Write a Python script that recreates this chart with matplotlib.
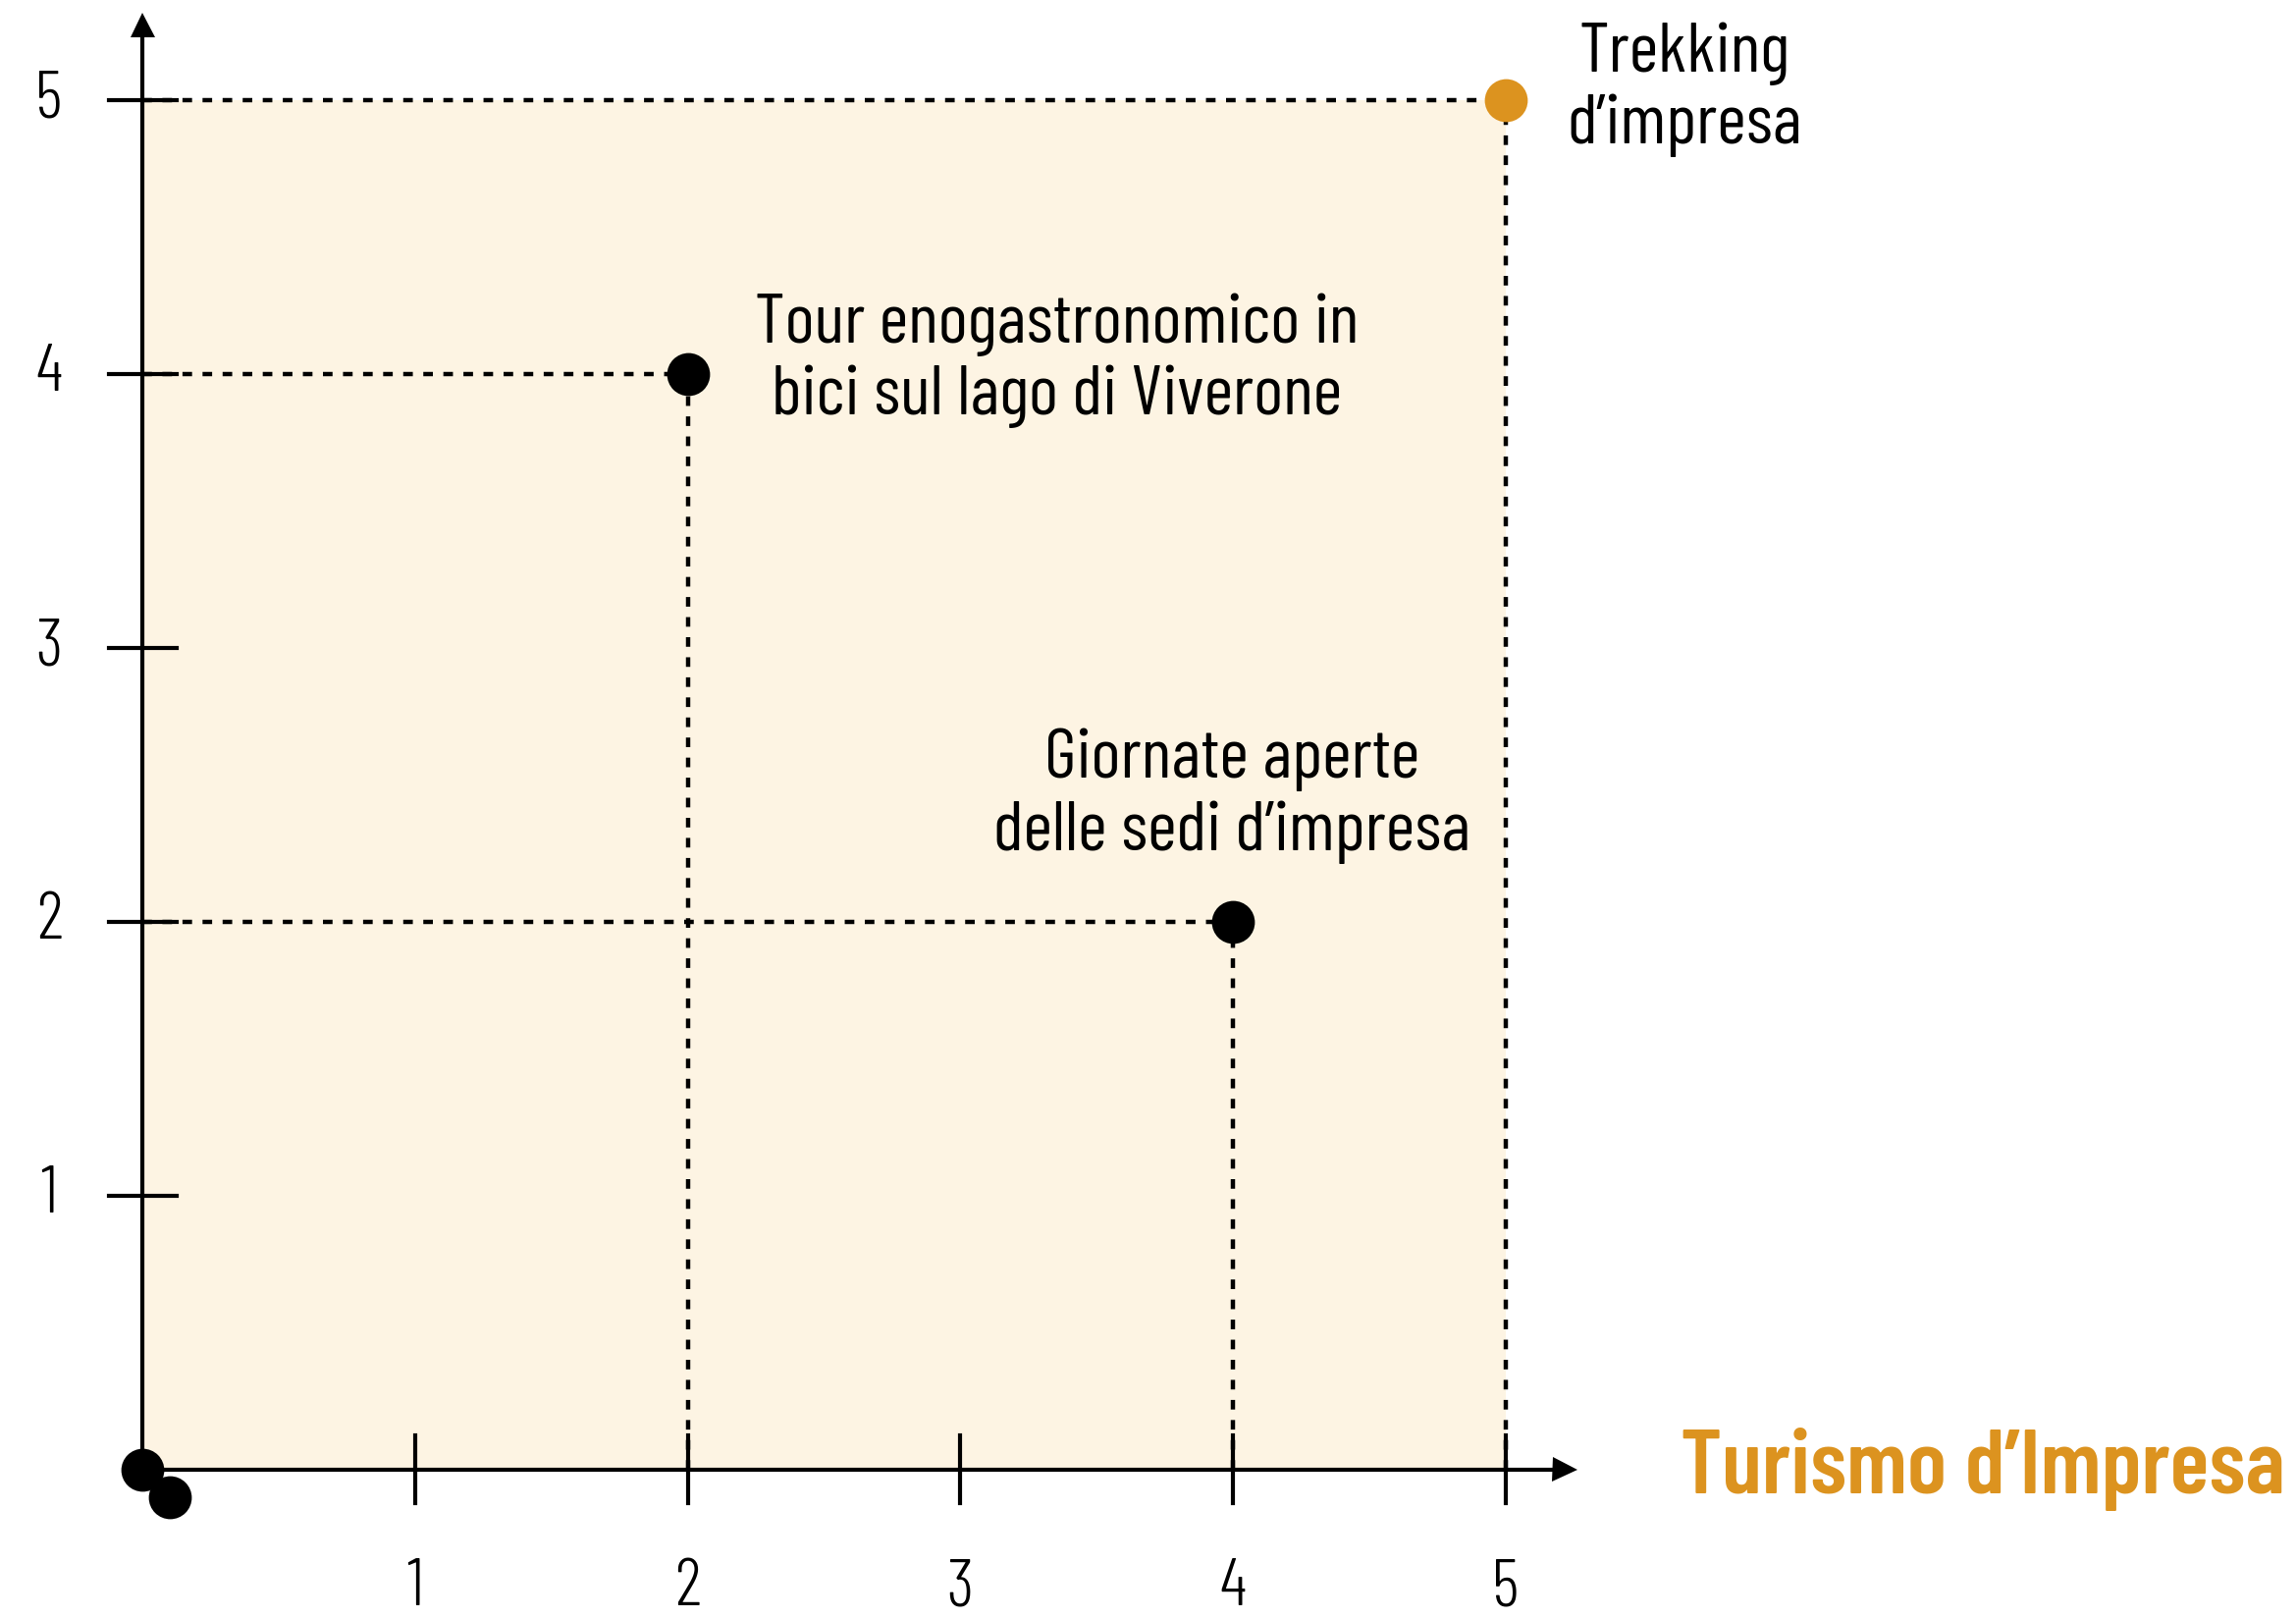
import matplotlib
matplotlib.use("Agg")
import matplotlib.pyplot as plt

# Progetti: punteggio (x) e punteggio (y), etichetta e colore
progetti = ["Trekking\nd’impresa",
            "Tour enogastronomico in\nbici sul lago di Viverone",
            "Giornate aperte\ndelle sedi d’impresa",
            "", ""]
x_vals = [5, 2, 4, 0, 0.1]
y_vals = [5, 4, 2, 0, -0.1]
colori = ["#DC931F", "black", "black", "black", "black"]

tick_vals = [1, 2, 3, 4, 5]
tick_labels = ["1", "2", "3", "4", "5"]
asse_x = "Turismo d’Impresa"

FONT = ["Barlow Condensed", "DejaVu Sans"]
ORANGE = "#DC931F"
BEIGE = "#FDF4E3"

fig = plt.figure(figsize=(23.39, 16.48), dpi=100)
ax = fig.add_axes([0, 0, 1, 1])
ax.set_xlim(-0.522, 7.898)
ax.set_ylim(-0.541, 5.366)
ax.axis("off")

# area di sfondo
ax.fill_between([0, 5], 0, 5, color=BEIGE, zorder=0, linewidth=0)

# linee tratteggiate di riferimento
for x, y in zip(x_vals[:3], y_vals[:3]):
    ax.plot([0, x], [y, y], color="black", lw=3.2, ls=(0, (2.2, 2.4)), zorder=1)
    ax.plot([x, x], [0, y], color="black", lw=3.2, ls=(0, (2.2, 2.4)), zorder=1)

# assi con frecce
ax.plot([0, 0], [0, 5.26], color="black", lw=3.0, zorder=2, solid_capstyle="butt")
ax.plot([0, 5.19], [0, 0], color="black", lw=3.0, zorder=2, solid_capstyle="butt")
ax.plot(0, 5.275, marker="^", ms=18, color="black", mew=0, zorder=2)
ax.plot(5.215, 0, marker=">", ms=18, color="black", mew=0, zorder=2)

# tacche ed etichette
for v, lab in zip(tick_vals, tick_labels):
    ax.plot([-0.122, 0.126], [v, v], color="black", lw=3.0, zorder=2)
    ax.plot([v, v], [-0.12, 0.125], color="black", lw=3.0, zorder=2)
    ax.text(-0.342, v, lab, ha="center", va="center", fontsize=49,
            family=FONT, fontweight=300, color="black")
    ax.text(v, -0.434, lab, ha="center", va="center", fontsize=49,
            family=FONT, fontweight=300, color="black")

# punti
for x, y, c in zip(x_vals, y_vals, colori):
    ax.plot(x, y, marker="o", ms=31.5, color=c, mew=0, zorder=3)

# etichette dei progetti
offsets = [(0.655, 0.04), (1.355, 0.05), (-0.005, 0.46)]
for (dx, dy), x, y, lab in zip(offsets, x_vals, y_vals, progetti):
    ax.text(x + dx, y + dy, lab, ha="center", va="center", fontsize=52,
            family=FONT, fontweight=400, color="black", linespacing=1.17)

ax.text(5.64, -0.086, asse_x, ha="left", va="baseline", fontsize=67,
        family=FONT, fontweight=600, color=ORANGE)

fig.savefig("out.png", dpi=100)
